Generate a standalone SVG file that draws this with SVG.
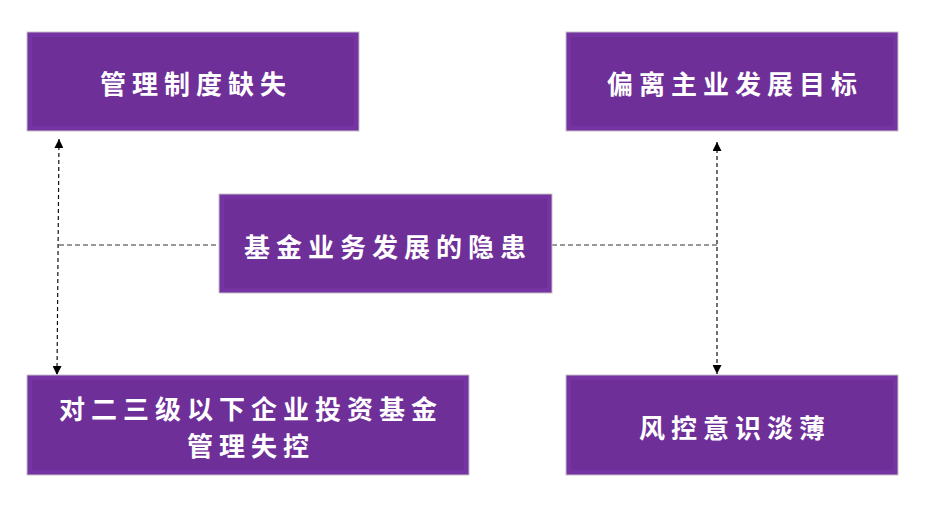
<svg xmlns="http://www.w3.org/2000/svg" width="934" height="506" viewBox="0 0 934 506">
<style>
.box{fill:#6f2f99;stroke:#c9c3cc;stroke-width:1}
.bev{fill:none;stroke:#7634a2;stroke-width:4}
.t{font-family:"Noto Sans CJK SC","Noto Sans CJK TC",sans-serif;font-weight:700;font-size:26px;fill:#ffffff;letter-spacing:6px;text-anchor:middle}
.v{stroke:#111;stroke-width:1.2;stroke-dasharray:4,3;fill:none}
.h{stroke:#777;stroke-width:1.6;stroke-dasharray:5,3;fill:none}
</style>
<defs>
<marker id="ah" viewBox="0 0 10 10" refX="10" refY="5" markerWidth="9" markerHeight="9" markerUnits="userSpaceOnUse" orient="auto-start-reverse">
<path d="M0,0 L10,5 L0,10 Z" fill="#000"/>
</marker>
</defs>
<g id="connectors">
<line class="v" x1="59" y1="139" x2="57" y2="375" marker-start="url(#ah)" marker-end="url(#ah)"/>
<line class="h" x1="59" y1="245" x2="220" y2="245"/>
<line class="v" x1="717" y1="142" x2="717" y2="374" marker-start="url(#ah)" marker-end="url(#ah)"/>
<line class="h" x1="552" y1="245" x2="717" y2="245"/>
</g>
<g id="n1">
<rect class="box" x="27" y="32" width="332" height="99"/>
<rect class="bev" x="30" y="35" width="326" height="93"/>
<text class="t" x="196" y="94">管理制度缺失</text>
</g>
<g id="n2">
<rect class="box" x="566" y="32" width="332" height="99"/>
<rect class="bev" x="569" y="35" width="326" height="93"/>
<text class="t" x="735" y="94">偏离主业发展目标</text>
</g>
<g id="n3">
<rect class="box" x="219" y="194" width="333" height="99"/>
<rect class="bev" x="222" y="197" width="327" height="93"/>
<text class="t" x="388" y="257">基金业务发展的隐患</text>
</g>
<g id="n4">
<rect class="box" x="27" y="375" width="442" height="100"/>
<rect class="bev" x="30" y="378" width="436" height="94"/>
<text class="t" x="251" y="419">对二三级以下企业投资基金</text>
<text class="t" x="251" y="456">管理失控</text>
</g>
<g id="n5">
<rect class="box" x="566" y="375" width="332" height="100"/>
<rect class="bev" x="569" y="378" width="326" height="94"/>
<text class="t" x="735" y="438">风控意识淡薄</text>
</g>
</svg>
